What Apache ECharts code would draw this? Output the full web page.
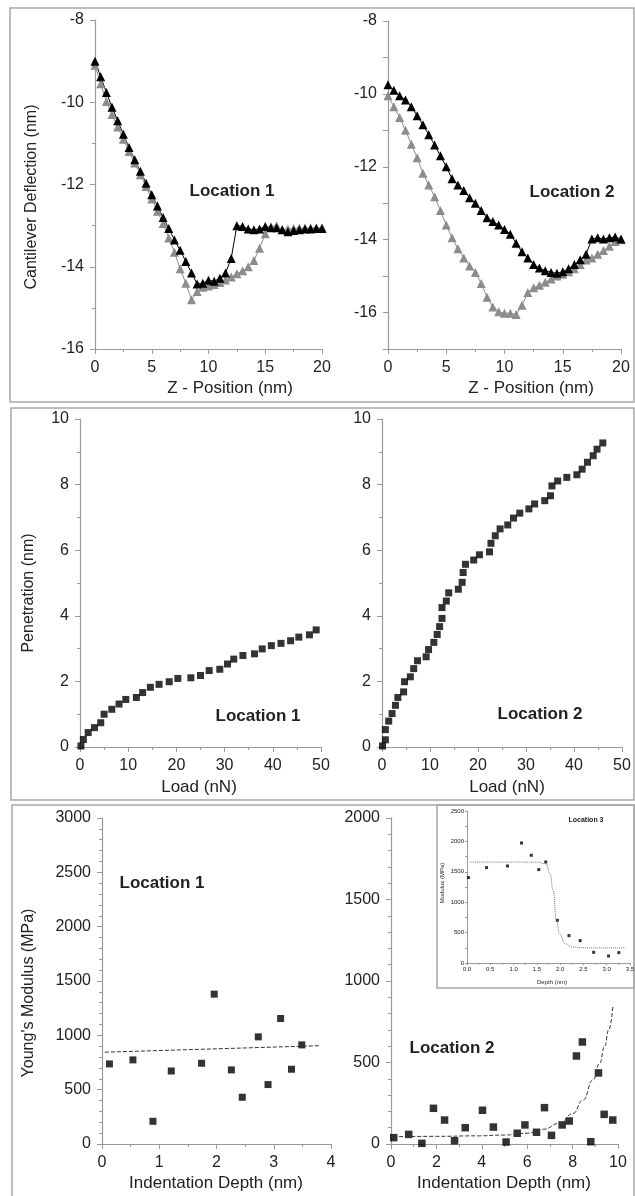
<!DOCTYPE html>
<html>
<head>
<meta charset="utf-8">
<title>Indentation curves</title>
<script src="https://cdn.jsdelivr.net/npm/echarts@6.0.0/dist/echarts.min.js"></script>
<style>
html, body { margin: 0; padding: 0; background: #fff; }
#main { width: 635px; height: 1196px; }
</style>
</head>
<body>
<div id="main"></div>
<script>
// ---- top row: deflection vs z-position ----
const zPosition = [0, 0.5, 1, 1.5, 2, 2.5, 3, 3.5, 4, 4.5, 5, 5.5, 6, 6.5, 7, 7.5, 8, 8.5, 9, 9.5,
  10, 10.5, 11, 11.5, 12, 12.5, 13, 13.5, 14, 14.5, 15, 15.5, 16, 16.5, 17, 17.5, 18, 18.5, 19, 19.5, 20]
const loc1Black = [-9.0, -9.38, -9.76, -10.12, -10.45, -10.78, -11.1, -11.4, -11.68, -11.97, -12.25, -12.52,
  -12.8, -13.07, -13.35, -13.6, -13.87, -14.15, -14.42, -14.4, -14.33, -14.35, -14.28, -14.15, -13.8, -13.0,
  -13.02, -13.08, -13.1, -13.08, -13.02, -13.05, -13.05, -13.1, -13.15, -13.12, -13.1, -13.08, -13.08, -13.07, -13.07]
const loc1Gray = [-9.1, -9.55, -9.98, -10.3, -10.6, -10.9, -11.2, -11.48, -11.76, -12.05, -12.35, -12.65,
  -12.95, -13.3, -13.65, -14.05, -14.4, -14.8, -14.6, -14.5, -14.47, -14.43, -14.38, -14.32, -14.25, -14.17,
  -14.1, -14.0, -13.85, -13.55, -13.2, -13.02, -13.0, -13.1, -13.08, -13.07, -13.06, -13.06, -13.05, -13.05, -13.05]
const loc2Black = [-9.75, -9.9, -10.05, -10.17, -10.35, -10.6, -10.85, -11.12, -11.4, -11.7, -12.0, -12.33,
  -12.5, -12.65, -12.85, -13.0, -13.2, -13.4, -13.5, -13.6, -13.72, -13.85, -14.1, -14.33, -14.5, -14.68,
  -14.78, -14.85, -14.9, -14.92, -14.88, -14.8, -14.68, -14.55, -14.4, -13.98, -13.95, -13.98, -13.95, -13.93, -13.98]
const loc2Gray = [-10.05, -10.35, -10.65, -11.0, -11.38, -11.75, -12.18, -12.5, -12.82, -13.2, -13.6, -13.95,
  -14.25, -14.5, -14.72, -14.9, -15.2, -15.58, -15.85, -15.98, -16.02, -16.02, -16.05, -15.8, -15.45, -15.32,
  -15.25, -15.17, -15.08, -15.0, -14.95, -14.88, -14.8, -14.68, -14.56, -14.5, -14.4, -14.3, -14.18, -14.05, -14.0]

// ---- middle row: penetration vs load ----
const load1 = [0.2, 0.7, 1.7, 3, 4.3, 5, 6.6, 8.1, 9.5, 11.7, 13, 14.6, 16.4, 18.5, 20.3, 23, 25, 26.8, 29,
  30.6, 31.9, 33.8, 36.2, 37.8, 39.7, 41.7, 43.7, 45.4, 47.6, 49]
const pen1 = [0.03, 0.23, 0.44, 0.59, 0.74, 1.0, 1.15, 1.31, 1.45, 1.51, 1.66, 1.82, 1.91, 1.99, 2.09, 2.11,
  2.18, 2.33, 2.37, 2.53, 2.68, 2.79, 2.84, 2.99, 3.09, 3.16, 3.24, 3.35, 3.42, 3.57]
const load2 = [0.1, 0.7, 0.7, 1.4, 2.1, 2.8, 3.3, 4.5, 4.7, 5.9, 6.6, 7.4, 9.2, 9.7, 10.8, 11.5, 12.0, 12.5,
  12.5, 13.4, 13.9, 15.9, 16.7, 16.9, 17.4, 19.1, 20.3, 22.4, 22.7, 23.6, 24.6, 26.2, 27.4, 28.7, 30.6, 31.8,
  33.9, 35.1, 35.4, 36.6, 38.5, 40.6, 41.7, 42.8, 44, 44.8, 46]
const pen2 = [0.03, 0.22, 0.53, 0.79, 1.02, 1.27, 1.51, 1.68, 1.99, 2.14, 2.39, 2.63, 2.75, 2.97, 3.19, 3.43,
  3.67, 3.92, 4.25, 4.45, 4.7, 4.81, 5.02, 5.32, 5.57, 5.7, 5.86, 5.95, 6.21, 6.44, 6.65, 6.77, 6.98, 7.13,
  7.26, 7.41, 7.51, 7.66, 7.96, 8.11, 8.22, 8.3, 8.47, 8.68, 8.88, 9.08, 9.27]

// ---- bottom row: modulus vs indentation depth ----
const depth1 = [0.13, 0.54, 0.89, 1.21, 1.74, 1.96, 2.26, 2.45, 2.73, 2.9, 3.12, 3.31, 3.49]
const modulus1 = [737, 774, 209, 672, 743, 1379, 682, 430, 986, 547, 1155, 688, 912]
const fit1Depth = [0.05, 3.82]
const fit1Modulus = [845, 905]

const depth2 = [0.12, 0.78, 1.36, 1.87, 2.36, 2.8, 3.27, 4.03, 4.51, 5.07, 5.56, 5.9, 6.41, 6.76, 7.07,
  7.54, 7.85, 8.17, 8.43, 8.8, 9.14, 9.39, 9.77]
const modulus2 = [39, 59, 4, 219, 147, 20, 100, 207, 104, 12, 66, 117, 72, 223, 53, 117, 141, 540, 626,
  14, 436, 182, 147]
const fit2Depth = [0.1, 2, 3.8, 5, 6, 6.7, 7.44, 8.02, 8.46, 8.9, 9.19, 9.41, 9.59, 9.78]
const fit2Modulus = [45, 47, 50, 55, 66, 90, 127, 188, 270, 393, 495, 598, 700, 853]

// inset (location 3)
const depth3 = [0.03, 0.42, 0.87, 1.17, 1.38, 1.54, 1.69, 1.94, 2.19, 2.43, 2.72, 3.04, 3.26]
const modulus3 = [1405, 1569, 1596, 1974, 1772, 1536, 1661, 702, 450, 368, 176, 115, 171]
const fit3Depth = [0.05, 0.5, 1.0, 1.5, 1.7, 1.78, 1.85, 1.92, 1.99, 2.1, 2.27, 2.5, 3.0, 3.4]
const fit3Modulus = [1660, 1660, 1660, 1658, 1630, 1470, 1195, 700, 482, 318, 263, 250, 248, 248]

const FONT = '"Liberation Sans", Arial, sans-serif'
const AXIS_GRAY = '#9a9a9a'
const TRI_GRAY = '#8c8c8c'

function pairs(xs, ys) {
  return xs.map((x, i) => [x, ys[i]])
}

// value axis with the look of the figure (axis line + ticks only)
function axis(gridIndex, min, max, interval, minor, label, small) {
  return {
    type: 'value',
    gridIndex: gridIndex,
    min: min,
    max: max,
    interval: interval,
    axisLine: { show: true, onZero: false, lineStyle: { color: AXIS_GRAY, width: small ? 1 : 1.2 } },
    axisTick: { show: true, length: small ? 2 : 5, lineStyle: { color: AXIS_GRAY } },
    minorTick: { show: minor > 1, splitNumber: minor || 1, length: small ? 2 : 3, lineStyle: { color: AXIS_GRAY } },
    splitLine: { show: false },
    minorSplitLine: { show: false },
    axisLabel: Object.assign({
      color: '#222',
      fontSize: small ? 6 : 16,
      fontFamily: FONT,
      margin: small ? 3 : 11,
      showMinLabel: true,
      showMaxLabel: true,
      // plain numbers, no thousands separator
      formatter: v => String(v),
    }, label || {}),
  }
}

function text(str, x, y, size, bold, rotate) {
  return {
    type: 'text',
    x: x,
    y: y,
    rotation: rotate ? Math.PI / 2 : 0,
    z: 10,
    style: {
      text: str,
      font: (bold ? 'bold ' : '') + size + 'px ' + FONT,
      fill: '#222',
      textAlign: 'center',
      textVerticalAlign: 'middle',
    },
  }
}

function frame(x, y, w, h) {
  return {
    type: 'rect',
    shape: { x: x, y: y, width: w, height: h },
    style: { fill: 'none', stroke: '#a8a8a8', lineWidth: 1.5 },
    z: 0,
  }
}

function triLine(axisIndex, xs, ys, color) {
  return {
    type: 'line', xAxisIndex: axisIndex, yAxisIndex: axisIndex, data: pairs(xs, ys),
    symbol: 'triangle', symbolSize: 9, showAllSymbol: true,
    itemStyle: { color: color }, lineStyle: { color: color, width: 1 },
  }
}

function initChart() {
  const chart = echarts.init(document.getElementById('main'), null, { renderer: 'canvas' })
  const oddHidden = { formatter: v => (Math.abs(v) % 2 === 0 ? String(v) : '') }

  const option = {
    animation: false,
    backgroundColor: '#fff',
    grid: [
      { left: 95, top: 20, width: 227, height: 329 },
      { left: 388, top: 21, width: 233, height: 328 },
      { left: 80, top: 419, width: 241, height: 328 },
      { left: 382, top: 419, width: 240, height: 328 },
      { left: 102, top: 818, width: 229, height: 326 },
      { left: 391, top: 818, width: 227, height: 326 },
      { left: 467, top: 811, width: 163, height: 152 },
    ].map(g => Object.assign({ containLabel: false, outerBoundsMode: 'none' }, g)),
    xAxis: [
      axis(0, 0, 20, 5, 2),
      axis(1, 0, 20, 5, 2),
      axis(2, 0, 50, 10, 2),
      axis(3, 0, 50, 10, 2),
      axis(4, 0, 4, 1, 2),
      axis(5, 0, 10, 2, 2),
      axis(6, 0, 3.5, 0.5, 2, { formatter: v => v.toFixed(1) }, true),
    ],
    yAxis: [
      axis(0, -16, -8, 2, 2),
      axis(1, -17, -8, 1, 1, oddHidden),
      axis(2, 0, 10, 2, 2),
      axis(3, 0, 10, 2, 2),
      axis(4, 0, 3000, 500, 5),
      axis(5, 0, 2000, 500, 5),
      axis(6, 0, 2500, 500, 2, null, true),
    ],
    series: [
      // top row
      triLine(0, zPosition, loc1Gray, TRI_GRAY),
      triLine(0, zPosition, loc1Black, '#000'),
      triLine(1, zPosition, loc2Gray, TRI_GRAY),
      triLine(1, zPosition, loc2Black, '#000'),
      // middle row
      {
        type: 'scatter', xAxisIndex: 2, yAxisIndex: 2, data: pairs(load1, pen1),
        symbol: 'rect', symbolSize: 7, itemStyle: { color: '#000' },
      },
      {
        type: 'scatter', xAxisIndex: 3, yAxisIndex: 3, data: pairs(load2, pen2),
        symbol: 'rect', symbolSize: 7, itemStyle: { color: '#000' },
      },
      // bottom row
      {
        type: 'line', xAxisIndex: 4, yAxisIndex: 4, data: pairs(fit1Depth, fit1Modulus),
        symbol: 'none', lineStyle: { color: '#333', width: 1, type: 'dashed' },
      },
      {
        type: 'scatter', xAxisIndex: 4, yAxisIndex: 4, data: pairs(depth1, modulus1),
        symbol: 'rect', symbolSize: 7, itemStyle: { color: '#000' },
      },
      {
        type: 'line', xAxisIndex: 5, yAxisIndex: 5, data: pairs(fit2Depth, fit2Modulus),
        symbol: 'none', smooth: true, smoothMonotone: 'x',
        lineStyle: { color: '#333', width: 1, type: 'dashed' },
      },
      {
        type: 'scatter', xAxisIndex: 5, yAxisIndex: 5, data: pairs(depth2, modulus2),
        symbol: 'rect', symbolSize: 7.5, itemStyle: { color: '#000' },
      },
      // inset
      {
        type: 'line', xAxisIndex: 6, yAxisIndex: 6, data: pairs(fit3Depth, fit3Modulus),
        symbol: 'none', smooth: true, smoothMonotone: 'x',
        lineStyle: { color: '#777', width: 1, type: 'dotted' },
      },
      {
        type: 'scatter', xAxisIndex: 6, yAxisIndex: 6, data: pairs(depth3, modulus3),
        symbol: 'rect', symbolSize: 3, itemStyle: { color: '#000' },
      },
    ],
    graphic: [
      frame(10, 8, 624, 394),
      frame(11, 408, 623, 392),
      frame(12, 805, 622, 400),
      frame(437, 805, 197, 183),
      // axis titles
      text('Cantilever Deflection (nm)', 32, 197, 16, false, true),
      text('Z - Position (nm)', 230, 388, 17),
      text('Z - Position (nm)', 531, 388, 17),
      text('Penetration (nm)', 29, 593, 16, false, true),
      text('Load (nN)', 199, 787, 17),
      text('Load (nN)', 507, 787, 17),
      text("Young's Modulus (MPa)", 29, 993, 16, false, true),
      text('Indentation Depth (nm)', 216, 1183, 17),
      text('Indentation Depth (nm)', 504, 1183, 17),
      text('Modulus (MPa)', 442, 883, 6, false, true),
      text('Depth (nm)', 552, 982, 6),
      // location labels
      text('Location 1', 232, 191, 17, true),
      text('Location 2', 572, 192, 17, true),
      text('Location 1', 258, 716, 17, true),
      text('Location 2', 540, 714, 17, true),
      text('Location 1', 162, 883, 17, true),
      text('Location 2', 452, 1048, 17, true),
      text('Location 3', 586, 820, 7, true),
    ],
  }

  chart.setOption(option)
  return chart
}

const chartInstance = initChart()
window.addEventListener('resize', () => chartInstance.resize())
</script>
</body>
</html>
